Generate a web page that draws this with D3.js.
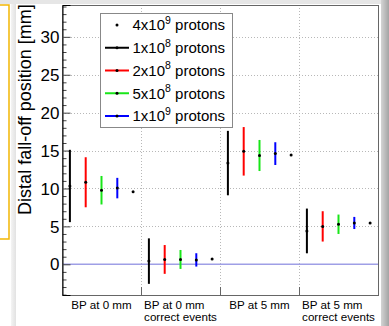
<!DOCTYPE html>
<html>
<head>
<meta charset="utf-8">
<script src="https://cdn.jsdelivr.net/npm/d3@7/dist/d3.min.js"></script>
<style>
    body { margin: 0; background: #fff; }
    svg { display: block; font-family: "Liberation Sans", Arial, Helvetica, sans-serif; }
</style>
</head>
<body>
<svg id="chart" width="389" height="326"></svg>
<script>

// Categories (one entry per line of the label)
const categories = [
    ["BP at 0 mm"],
    ["BP at 0 mm", "correct events"],
    ["BP at 5 mm"],
    ["BP at 5 mm", "correct events"]
];

// Distal fall-off position [mm] and error per category
const protons1e8 = [10.33, 0.42, 13.35, 4.40];
const err1e8     = [4.77, 3.00, 4.25, 2.95];
const protons2e8 = [10.82, 0.64, 14.90, 5.00];
const err2e8     = [3.30, 1.90, 3.20, 2.00];
const protons5e8 = [9.77, 0.64, 14.35, 5.28];
const err5e8     = [1.88, 1.25, 2.05, 1.28];
const protons1e9 = [10.05, 0.58, 14.60, 5.45];
const err1e9     = [1.35, 0.88, 1.50, 0.80];
const protons4e9 = [9.58, 0.70, 14.40, 5.45];

// Legend texts (mantissa, exponent)
const legendBase = ["4x10", "1x10", "2x10", "5x10", "1x10"];
const legendExp  = ["9", "8", "8", "8", "9"];

// Y axis tick labels
const yTickLabels = [0, 5, 10, 15, 20, 25, 30];

// Series table built from the arrays above
const series = [
    { values: protons1e8, errors: err1e8, colour: "#000000", offset: 0.1 },
    { values: protons2e8, errors: err2e8, colour: "#ff0000", offset: 0.3 },
    { values: protons5e8, errors: err5e8, colour: "#19e619", offset: 0.5 },
    { values: protons1e9, errors: err1e9, colour: "#0000ff", offset: 0.7 },
    { values: protons4e9, errors: null,   colour: "#000000", offset: 0.9 }
];

const svg = d3.select("#chart");

// Page decorations around the chart
const defs = svg.append("defs");
const gradR = defs.append("linearGradient").attr("id", "shadowR");
gradR.append("stop").attr("offset", "0%").attr("stop-color", "#d4d4d4");
gradR.append("stop").attr("offset", "100%").attr("stop-color", "#a4a4a4");
const gradL = defs.append("linearGradient").attr("id", "shadowL");
gradL.append("stop").attr("offset", "0%").attr("stop-color", "#f4f4f4");
gradL.append("stop").attr("offset", "100%").attr("stop-color", "#e2e2e2");

svg.append("rect").attr("x", 0).attr("y", 0).attr("width", 389).attr("height", 4).attr("fill", "#e6e6e6");
svg.append("rect").attr("x", 11).attr("y", 4).attr("width", 5).attr("height", 322).attr("fill", "url(#shadowL)");
svg.append("rect").attr("x", 381).attr("y", 0).attr("width", 8).attr("height", 326).attr("fill", "url(#shadowR)");
svg.append("path")
    .attr("d", "M0,5H9V239H0")
    .attr("fill", "none")
    .attr("stroke", "#f2b705")
    .attr("stroke-width", 1.5);

// Frame dimensions
const frame = { left: 62, right: 378, top: 5, bottom: 295 };

const x = d3.scaleLinear().domain([0, categories.length]).range([frame.left, frame.right]);
const y = d3.scaleLinear().domain([-4.05, 34.2]).range([frame.bottom, frame.top]);

// Grid
const grid = svg.append("g")
    .attr("stroke", "#b8b8b8")
    .attr("stroke-width", 1)
    .attr("stroke-dasharray", "1,2");
grid.selectAll(".hgrid")
    .data(yTickLabels.filter(v => v !== 0))
    .enter().append("line")
    .attr("x1", frame.left).attr("x2", frame.right)
    .attr("y1", d => Math.round(y(d)) + 0.5).attr("y2", d => Math.round(y(d)) + 0.5);
grid.selectAll(".vgrid")
    .data(d3.range(1, categories.length))
    .enter().append("line")
    .attr("x1", d => Math.round(x(d)) + 0.5).attr("x2", d => Math.round(x(d)) + 0.5)
    .attr("y1", frame.top).attr("y2", frame.bottom);

// Zero line
svg.append("line")
    .attr("x1", frame.left).attr("x2", frame.right)
    .attr("y1", y(0)).attr("y2", y(0))
    .attr("stroke", "#9f9fe6")
    .attr("stroke-width", 1.5);

// Frame
svg.append("rect")
    .attr("x", frame.left + 0.5).attr("y", frame.top + 0.5)
    .attr("width", frame.right - frame.left).attr("height", frame.bottom - frame.top)
    .attr("fill", "none")
    .attr("stroke", "#666");

// Y axis with major and minor ticks drawn inside the frame
const yAxis = svg.append("g").attr("transform", `translate(${frame.left + 0.5},0)`);
yAxis.call(d3.axisRight(y)
    .tickValues(d3.range(-4, 35).filter(v => v % 5 !== 0))
    .tickSize(4)
    .tickFormat(""));
yAxis.call(g => g.select(".domain").remove());
const yMajor = svg.append("g").attr("transform", `translate(${frame.left + 0.5},0)`);
yMajor.call(d3.axisRight(y).tickValues(yTickLabels).tickSize(8).tickFormat(""));
yMajor.select(".domain").attr("stroke", "#000");
svg.selectAll(".tick line").attr("stroke", "#444");

svg.append("g").selectAll("text")
    .data(yTickLabels)
    .enter().append("text")
    .attr("x", 59.5)
    .attr("y", d => y(d))
    .attr("dy", "0.36em")
    .attr("text-anchor", "end")
    .style("font-size", "17px")
    .text(d => d);

// Bottom ticks at category boundaries
svg.append("g").selectAll("line")
    .data(d3.range(1, categories.length))
    .enter().append("line")
    .attr("x1", d => Math.round(x(d)) + 0.5).attr("x2", d => Math.round(x(d)) + 0.5)
    .attr("y1", frame.bottom).attr("y2", frame.bottom - 8)
    .attr("stroke", "#666");

// Axis title
svg.append("text")
    .attr("transform", `translate(31,${(frame.top + 214) / 2}) rotate(-90)`)
    .attr("text-anchor", "middle")
    .style("font-size", "18px")
    .text("Distal fall-off position [mm]");

// Category labels (left-aligned block centred on the bin)
categories.forEach((lines, i) => {
    const g = svg.append("g");
    const texts = g.selectAll("text")
        .data(lines)
        .enter().append("text")
        .attr("y", (d, j) => 308.5 + j * 12.3)
        .style("font-size", "11.6px")
        .text(d => d);
    const widest = d3.max(texts.nodes(), n => n.getComputedTextLength());
    texts.attr("x", x(i + 0.5) - widest / 2);
});

// Error bars and markers
series.forEach(s => {
    const g = svg.append("g");
    if (s.errors) {
        g.selectAll("line")
            .data(s.values)
            .enter().append("line")
            .attr("x1", (d, i) => x(i + s.offset)).attr("x2", (d, i) => x(i + s.offset))
            .attr("y1", (d, i) => y(d - s.errors[i]))
            .attr("y2", (d, i) => y(d + s.errors[i]))
            .attr("stroke", s.colour)
            .attr("stroke-width", 2);
    }
    g.selectAll("circle")
        .data(s.values)
        .enter().append("circle")
        .attr("cx", (d, i) => x(i + s.offset))
        .attr("cy", d => y(d))
        .attr("r", 1.5)
        .attr("fill", "#000");
});

// Legend
const legend = svg.append("g");
legend.append("rect")
    .attr("x", 100.5).attr("y", 13.5)
    .attr("width", 132).attr("height", 114)
    .attr("fill", "#fff")
    .attr("stroke", "#888");
const legendOrder = [4, 0, 1, 2, 3];
legendOrder.forEach((si, k) => {
    const s = series[si];
    const cy = 25 + k * 22.75;
    if (s.errors) {
        legend.append("line")
            .attr("x1", 105).attr("x2", 129)
            .attr("y1", cy).attr("y2", cy)
            .attr("stroke", s.colour)
            .attr("stroke-width", 2);
    }
    legend.append("circle")
        .attr("cx", 117).attr("cy", cy).attr("r", 1.5).attr("fill", "#000");
    const t = legend.append("text")
        .attr("x", 132.5).attr("y", cy + 5.4)
        .style("font-size", "15px");
    t.append("tspan").text(legendBase[k]);
    t.append("tspan").attr("dy", -6.5).style("font-size", "10.5px").text(legendExp[k]);
    t.append("tspan").attr("dy", 6.5).text(" protons");
});

</script>
</body>
</html>
